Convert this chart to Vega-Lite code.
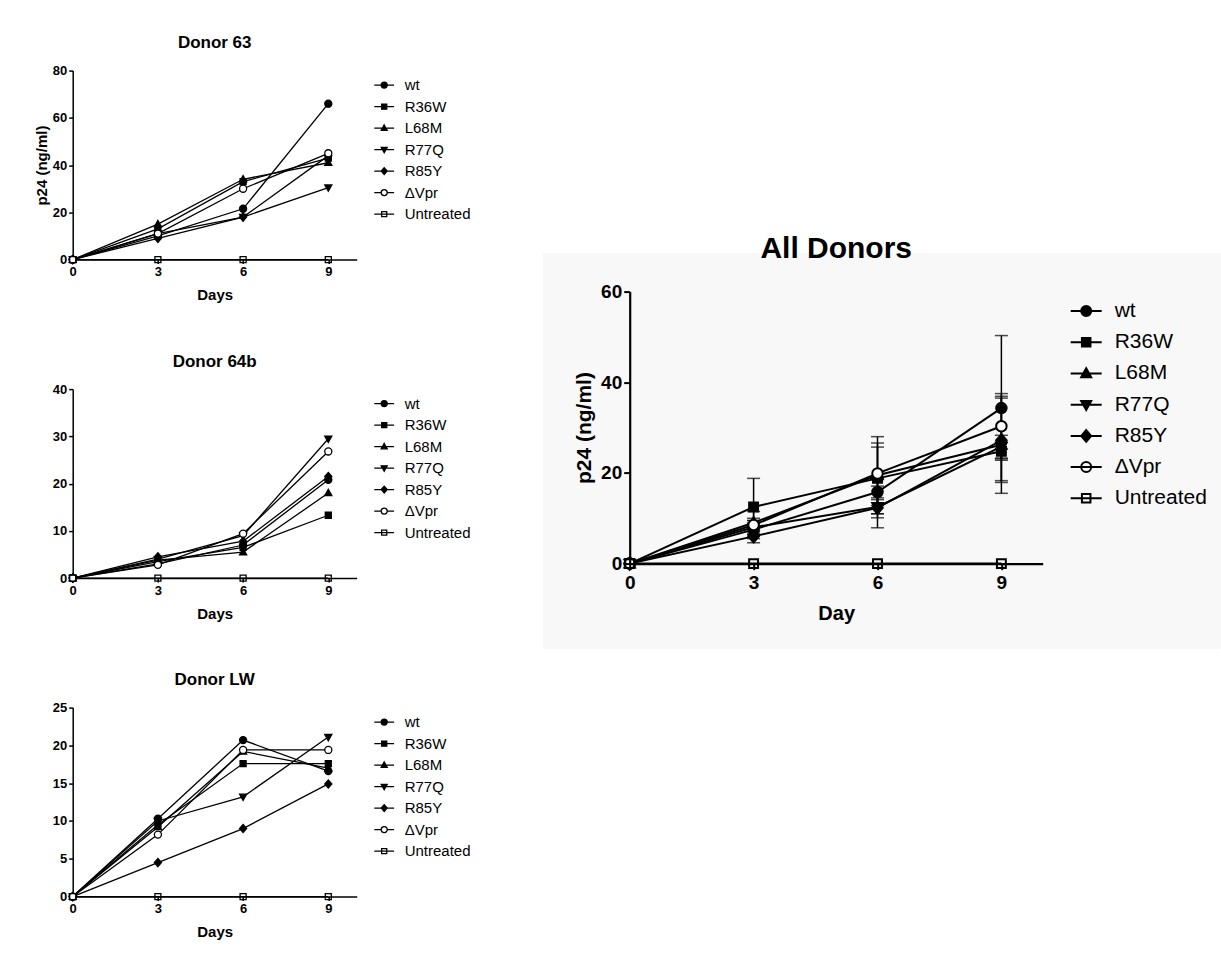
{
  "$schema": "https://vega.github.io/schema/vega-lite/v6.json",
  "padding": {"left": 33.7, "top": 33.6, "right": 0, "bottom": 0},
  "background": "white",
  "config": {
    "view": {"stroke": null},
    "font": "Liberation Sans",
    "axis": {"grid": false, "domainColor": "black", "tickColor": "black", "labelColor": "black", "titleColor": "black", "labelFont": "Liberation Sans", "titleFont": "Liberation Sans", "labelFlush": false},
    "legend": {"labelFont": "Liberation Sans", "labelColor": "black"},
    "title": {"font": "Liberation Sans", "color": "black", "fontWeight": "bold", "frame": "group", "anchor": "middle"}
  },
  "datasets": {
    "d": [
      {"donor": "Donor 63", "series": "wt", "day": 0, "p24": 0},
      {"donor": "Donor 63", "series": "wt", "day": 3, "p24": 10},
      {"donor": "Donor 63", "series": "wt", "day": 6, "p24": 21.5},
      {"donor": "Donor 63", "series": "wt", "day": 9, "p24": 66},
      {"donor": "Donor 63", "series": "R36W", "day": 0, "p24": 0},
      {"donor": "Donor 63", "series": "R36W", "day": 3, "p24": 13},
      {"donor": "Donor 63", "series": "R36W", "day": 6, "p24": 33},
      {"donor": "Donor 63", "series": "R36W", "day": 9, "p24": 43},
      {"donor": "Donor 63", "series": "L68M", "day": 0, "p24": 0},
      {"donor": "Donor 63", "series": "L68M", "day": 3, "p24": 15},
      {"donor": "Donor 63", "series": "L68M", "day": 6, "p24": 34},
      {"donor": "Donor 63", "series": "L68M", "day": 9, "p24": 41},
      {"donor": "Donor 63", "series": "R77Q", "day": 0, "p24": 0},
      {"donor": "Donor 63", "series": "R77Q", "day": 3, "p24": 11},
      {"donor": "Donor 63", "series": "R77Q", "day": 6, "p24": 18},
      {"donor": "Donor 63", "series": "R77Q", "day": 9, "p24": 30.5},
      {"donor": "Donor 63", "series": "R85Y", "day": 0, "p24": 0},
      {"donor": "Donor 63", "series": "R85Y", "day": 3, "p24": 9},
      {"donor": "Donor 63", "series": "R85Y", "day": 6, "p24": 18},
      {"donor": "Donor 63", "series": "R85Y", "day": 9, "p24": 44},
      {"donor": "Donor 63", "series": "ΔVpr", "day": 0, "p24": 0},
      {"donor": "Donor 63", "series": "ΔVpr", "day": 3, "p24": 11},
      {"donor": "Donor 63", "series": "ΔVpr", "day": 6, "p24": 30},
      {"donor": "Donor 63", "series": "ΔVpr", "day": 9, "p24": 45},
      {"donor": "Donor 63", "series": "Untreated", "day": 0, "p24": 0},
      {"donor": "Donor 63", "series": "Untreated", "day": 3, "p24": 0},
      {"donor": "Donor 63", "series": "Untreated", "day": 6, "p24": 0},
      {"donor": "Donor 63", "series": "Untreated", "day": 9, "p24": 0},

      {"donor": "Donor 64b", "series": "wt", "day": 0, "p24": 0},
      {"donor": "Donor 64b", "series": "wt", "day": 3, "p24": 3.0},
      {"donor": "Donor 64b", "series": "wt", "day": 6, "p24": 7.0},
      {"donor": "Donor 64b", "series": "wt", "day": 9, "p24": 20.8},
      {"donor": "Donor 64b", "series": "R36W", "day": 0, "p24": 0},
      {"donor": "Donor 64b", "series": "R36W", "day": 3, "p24": 3.5},
      {"donor": "Donor 64b", "series": "R36W", "day": 6, "p24": 6.5},
      {"donor": "Donor 64b", "series": "R36W", "day": 9, "p24": 13.3},
      {"donor": "Donor 64b", "series": "L68M", "day": 0, "p24": 0},
      {"donor": "Donor 64b", "series": "L68M", "day": 3, "p24": 3.8},
      {"donor": "Donor 64b", "series": "L68M", "day": 6, "p24": 5.5},
      {"donor": "Donor 64b", "series": "L68M", "day": 9, "p24": 18.0},
      {"donor": "Donor 64b", "series": "R77Q", "day": 0, "p24": 0},
      {"donor": "Donor 64b", "series": "R77Q", "day": 3, "p24": 4.0},
      {"donor": "Donor 64b", "series": "R77Q", "day": 6, "p24": 9.0},
      {"donor": "Donor 64b", "series": "R77Q", "day": 9, "p24": 29.5},
      {"donor": "Donor 64b", "series": "R85Y", "day": 0, "p24": 0},
      {"donor": "Donor 64b", "series": "R85Y", "day": 3, "p24": 4.5},
      {"donor": "Donor 64b", "series": "R85Y", "day": 6, "p24": 7.8},
      {"donor": "Donor 64b", "series": "R85Y", "day": 9, "p24": 21.5},
      {"donor": "Donor 64b", "series": "ΔVpr", "day": 0, "p24": 0},
      {"donor": "Donor 64b", "series": "ΔVpr", "day": 3, "p24": 2.8},
      {"donor": "Donor 64b", "series": "ΔVpr", "day": 6, "p24": 9.4},
      {"donor": "Donor 64b", "series": "ΔVpr", "day": 9, "p24": 26.8},
      {"donor": "Donor 64b", "series": "Untreated", "day": 0, "p24": 0},
      {"donor": "Donor 64b", "series": "Untreated", "day": 3, "p24": 0},
      {"donor": "Donor 64b", "series": "Untreated", "day": 6, "p24": 0},
      {"donor": "Donor 64b", "series": "Untreated", "day": 9, "p24": 0},

      {"donor": "Donor LW", "series": "wt", "day": 0, "p24": 0},
      {"donor": "Donor LW", "series": "wt", "day": 3, "p24": 10.3},
      {"donor": "Donor LW", "series": "wt", "day": 6, "p24": 20.7},
      {"donor": "Donor LW", "series": "wt", "day": 9, "p24": 16.6},
      {"donor": "Donor LW", "series": "R36W", "day": 0, "p24": 0},
      {"donor": "Donor LW", "series": "R36W", "day": 3, "p24": 9.5},
      {"donor": "Donor LW", "series": "R36W", "day": 6, "p24": 17.6},
      {"donor": "Donor LW", "series": "R36W", "day": 9, "p24": 17.6},
      {"donor": "Donor LW", "series": "L68M", "day": 0, "p24": 0},
      {"donor": "Donor LW", "series": "L68M", "day": 3, "p24": 9.2},
      {"donor": "Donor LW", "series": "L68M", "day": 6, "p24": 19.2},
      {"donor": "Donor LW", "series": "L68M", "day": 9, "p24": 17.0},
      {"donor": "Donor LW", "series": "R77Q", "day": 0, "p24": 0},
      {"donor": "Donor LW", "series": "R77Q", "day": 3, "p24": 10.0},
      {"donor": "Donor LW", "series": "R77Q", "day": 6, "p24": 13.2},
      {"donor": "Donor LW", "series": "R77Q", "day": 9, "p24": 21.1},
      {"donor": "Donor LW", "series": "R85Y", "day": 0, "p24": 0},
      {"donor": "Donor LW", "series": "R85Y", "day": 3, "p24": 4.5},
      {"donor": "Donor LW", "series": "R85Y", "day": 6, "p24": 9.0},
      {"donor": "Donor LW", "series": "R85Y", "day": 9, "p24": 14.9},
      {"donor": "Donor LW", "series": "ΔVpr", "day": 0, "p24": 0},
      {"donor": "Donor LW", "series": "ΔVpr", "day": 3, "p24": 8.2},
      {"donor": "Donor LW", "series": "ΔVpr", "day": 6, "p24": 19.4},
      {"donor": "Donor LW", "series": "ΔVpr", "day": 9, "p24": 19.4},
      {"donor": "Donor LW", "series": "Untreated", "day": 0, "p24": 0},
      {"donor": "Donor LW", "series": "Untreated", "day": 3, "p24": 0},
      {"donor": "Donor LW", "series": "Untreated", "day": 6, "p24": 0},
      {"donor": "Donor LW", "series": "Untreated", "day": 9, "p24": 0},

      {"donor": "All Donors", "series": "wt", "day": 0, "p24": 0},
      {"donor": "All Donors", "series": "wt", "day": 3, "p24": 7.5, "lo": 5.5, "hi": 9.5},
      {"donor": "All Donors", "series": "wt", "day": 6, "p24": 15.8, "lo": 12.8, "hi": 18.8},
      {"donor": "All Donors", "series": "wt", "day": 9, "p24": 34.3, "lo": 18.3, "hi": 50.3},
      {"donor": "All Donors", "series": "R36W", "day": 0, "p24": 0},
      {"donor": "All Donors", "series": "R36W", "day": 3, "p24": 12.5, "lo": 6.2, "hi": 18.8},
      {"donor": "All Donors", "series": "R36W", "day": 6, "p24": 18.8, "lo": 11.0, "hi": 26.6},
      {"donor": "All Donors", "series": "R36W", "day": 9, "p24": 24.8, "lo": 22.8, "hi": 26.8},
      {"donor": "All Donors", "series": "L68M", "day": 0, "p24": 0},
      {"donor": "All Donors", "series": "L68M", "day": 3, "p24": 9.0, "lo": 6.5, "hi": 11.5},
      {"donor": "All Donors", "series": "L68M", "day": 6, "p24": 19.5, "lo": 11.0, "hi": 28.0},
      {"donor": "All Donors", "series": "L68M", "day": 9, "p24": 26.2, "lo": 15.5, "hi": 36.9},
      {"donor": "All Donors", "series": "R77Q", "day": 0, "p24": 0},
      {"donor": "All Donors", "series": "R77Q", "day": 3, "p24": 8.0, "lo": 6.5, "hi": 9.5},
      {"donor": "All Donors", "series": "R77Q", "day": 6, "p24": 12.5, "lo": 7.9, "hi": 17.1},
      {"donor": "All Donors", "series": "R77Q", "day": 9, "p24": 25.8, "lo": 23.3, "hi": 28.3},
      {"donor": "All Donors", "series": "R85Y", "day": 0, "p24": 0},
      {"donor": "All Donors", "series": "R85Y", "day": 3, "p24": 6.0, "lo": 4.6, "hi": 7.4},
      {"donor": "All Donors", "series": "R85Y", "day": 6, "p24": 12.3, "lo": 10.1, "hi": 14.5},
      {"donor": "All Donors", "series": "R85Y", "day": 9, "p24": 27.2, "lo": 17.9, "hi": 36.5},
      {"donor": "All Donors", "series": "ΔVpr", "day": 0, "p24": 0},
      {"donor": "All Donors", "series": "ΔVpr", "day": 3, "p24": 8.5, "lo": 7.0, "hi": 10.0},
      {"donor": "All Donors", "series": "ΔVpr", "day": 6, "p24": 19.9, "lo": 14.1, "hi": 25.7},
      {"donor": "All Donors", "series": "ΔVpr", "day": 9, "p24": 30.3, "lo": 23.1, "hi": 37.5},
      {"donor": "All Donors", "series": "Untreated", "day": 0, "p24": 0},
      {"donor": "All Donors", "series": "Untreated", "day": 3, "p24": 0},
      {"donor": "All Donors", "series": "Untreated", "day": 6, "p24": 0},
      {"donor": "All Donors", "series": "Untreated", "day": 9, "p24": 0}
    ]
  },
  "spacing": 72,
  "resolve": {"scale": {"shape": "independent", "fill": "independent"}},
  "hconcat": [
    {
      "spacing": 49.5,
      "resolve": {"scale": {"shape": "independent", "fill": "independent"}},
      "vconcat": [
        {
          "width": 284, "height": 189,
          "title": {"text": "Donor 63", "fontSize": 17, "offset": 12.4},
          "data": {"name": "d"},
          "transform": [{"filter": "datum.donor === 'Donor 63'"}],
          "encoding": {
            "x": {"field": "day", "type": "quantitative", "scale": {"domain": [0, 10]}, "axis": {"title": "Days", "values": [0, 3, 6, 9], "labelFontSize": 13, "labelFontWeight": "bold", "titleFontSize": 15, "titleFontWeight": "bold", "tickSize": 4, "labelPadding": 2, "titlePadding": 9, "domainWidth": 1.5, "tickWidth": 1.5}},
            "y": {"field": "p24", "type": "quantitative", "scale": {"domain": [0, 80]}, "axis": {"title": "p24 (ng/ml)", "values": [0, 20, 40, 60, 80], "labelFontSize": 13, "labelFontWeight": "bold", "titleFontSize": 15, "titleFontWeight": "bold", "tickSize": 4, "labelPadding": 2, "titlePadding": 3, "domainWidth": 1.5, "tickWidth": 1.5}}
          },
          "resolve": {"scale": {"shape": "independent", "fill": "independent"}},
          "layer": [
            {"mark": {"type": "line", "color": "black", "strokeWidth": 1.3}, "encoding": {"detail": {"field": "series"}}},
            {"mark": {"type": "point", "filled": true, "stroke": "black", "strokeWidth": 1.3, "size": 50, "opacity": 1},
             "encoding": {
               "shape": {"field": "series", "type": "nominal", "legend": null, "scale": {"domain": ["wt", "R36W", "L68M", "R77Q", "R85Y", "ΔVpr", "Untreated"], "range": ["M-1,0A1,1,0,1,1,1,0A1,1,0,1,1,-1,0Z", "M-0.85,-0.85H0.85V0.85H-0.85Z", "M0,-1.05L1,0.75H-1Z", "M0,1.05L1,-0.75H-1Z", "M0,-1.15L1,0L0,1.15L-1,0Z", "M-1,0A1,1,0,1,1,1,0A1,1,0,1,1,-1,0Z", "M-0.85,-0.85H0.85V0.85H-0.85Z"]}},
               "fill": {"field": "series", "type": "nominal", "legend": null, "scale": {"domain": ["wt", "R36W", "L68M", "R77Q", "R85Y", "ΔVpr", "Untreated"], "range": ["black", "black", "black", "black", "black", "white", "transparent"]}}
             }},
            {"mark": {"type": "point", "filled": true, "stroke": "black", "strokeWidth": 1.3, "opacity": 0},
             "encoding": {
               "shape": {"field": "series", "type": "nominal", "legend": {"title": null, "orient": "none", "legendX": 304, "legendY": 7, "symbolSize": 36, "symbolStrokeWidth": 1.3, "symbolStrokeColor": "black", "symbolOpacity": 1, "labelFontSize": 15, "labelOffset": 13, "rowPadding": 5.5, "padding": 0, "encode": {"symbols": {"update": {"stroke": {"value": "black"}, "strokeWidth": {"value": 1.3}, "opacity": {"value": 1}}}}}, "scale": {"domain": ["wt", "R36W", "L68M", "R77Q", "R85Y", "ΔVpr", "Untreated"], "range": ["M-3.3,0H3.3M-1,0A1,1,0,1,1,1,0A1,1,0,1,1,-1,0Z", "M-3.3,0H3.3M-0.85,-0.85H0.85V0.85H-0.85Z", "M-3.3,0H3.3M0,-1.05L1,0.75H-1Z", "M-3.3,0H3.3M0,1.05L1,-0.75H-1Z", "M-3.3,0H3.3M0,-1.15L1,0L0,1.15L-1,0Z", "M-3.3,0H-1M1,0H3.3M-1,0A1,1,0,1,1,1,0A1,1,0,1,1,-1,0Z", "M-3.3,0H3.3M-0.85,-0.85H0.85V0.85H-0.85Z"]}},
               "fill": {"field": "series", "type": "nominal", "legend": {"title": null, "orient": "none", "legendX": 304, "legendY": 7, "symbolSize": 36, "symbolStrokeWidth": 1.3, "symbolStrokeColor": "black", "symbolOpacity": 1, "labelFontSize": 15, "labelOffset": 13, "rowPadding": 5.5, "padding": 0, "encode": {"symbols": {"update": {"stroke": {"value": "black"}, "strokeWidth": {"value": 1.3}, "opacity": {"value": 1}}}}}, "scale": {"domain": ["wt", "R36W", "L68M", "R77Q", "R85Y", "ΔVpr", "Untreated"], "range": ["black", "black", "black", "black", "black", "white", "transparent"]}}
             }}
          ]
        },
        {
          "width": 284, "height": 189,
          "title": {"text": "Donor 64b", "fontSize": 17, "offset": 12.4},
          "data": {"name": "d"},
          "transform": [{"filter": "datum.donor === 'Donor 64b'"}],
          "encoding": {
            "x": {"field": "day", "type": "quantitative", "scale": {"domain": [0, 10]}, "axis": {"title": "Days", "values": [0, 3, 6, 9], "labelFontSize": 13, "labelFontWeight": "bold", "titleFontSize": 15, "titleFontWeight": "bold", "tickSize": 4, "labelPadding": 2, "titlePadding": 9, "domainWidth": 1.5, "tickWidth": 1.5}},
            "y": {"field": "p24", "type": "quantitative", "scale": {"domain": [0, 40]}, "axis": {"title": " ", "values": [0, 10, 20, 30, 40], "labelFontSize": 13, "labelFontWeight": "bold", "titleFontSize": 15, "titleFontWeight": "bold", "tickSize": 4, "labelPadding": 2, "titlePadding": 3, "domainWidth": 1.5, "tickWidth": 1.5}}
          },
          "resolve": {"scale": {"shape": "independent", "fill": "independent"}},
          "layer": [
            {"mark": {"type": "line", "color": "black", "strokeWidth": 1.3}, "encoding": {"detail": {"field": "series"}}},
            {"mark": {"type": "point", "filled": true, "stroke": "black", "strokeWidth": 1.3, "size": 50, "opacity": 1},
             "encoding": {
               "shape": {"field": "series", "type": "nominal", "legend": null, "scale": {"domain": ["wt", "R36W", "L68M", "R77Q", "R85Y", "ΔVpr", "Untreated"], "range": ["M-1,0A1,1,0,1,1,1,0A1,1,0,1,1,-1,0Z", "M-0.85,-0.85H0.85V0.85H-0.85Z", "M0,-1.05L1,0.75H-1Z", "M0,1.05L1,-0.75H-1Z", "M0,-1.15L1,0L0,1.15L-1,0Z", "M-1,0A1,1,0,1,1,1,0A1,1,0,1,1,-1,0Z", "M-0.85,-0.85H0.85V0.85H-0.85Z"]}},
               "fill": {"field": "series", "type": "nominal", "legend": null, "scale": {"domain": ["wt", "R36W", "L68M", "R77Q", "R85Y", "ΔVpr", "Untreated"], "range": ["black", "black", "black", "black", "black", "white", "transparent"]}}
             }},
            {"mark": {"type": "point", "filled": true, "stroke": "black", "strokeWidth": 1.3, "opacity": 0},
             "encoding": {
               "shape": {"field": "series", "type": "nominal", "legend": {"title": null, "orient": "none", "legendX": 304, "legendY": 7, "symbolSize": 36, "symbolStrokeWidth": 1.3, "symbolStrokeColor": "black", "symbolOpacity": 1, "labelFontSize": 15, "labelOffset": 13, "rowPadding": 5.5, "padding": 0, "encode": {"symbols": {"update": {"stroke": {"value": "black"}, "strokeWidth": {"value": 1.3}, "opacity": {"value": 1}}}}}, "scale": {"domain": ["wt", "R36W", "L68M", "R77Q", "R85Y", "ΔVpr", "Untreated"], "range": ["M-3.3,0H3.3M-1,0A1,1,0,1,1,1,0A1,1,0,1,1,-1,0Z", "M-3.3,0H3.3M-0.85,-0.85H0.85V0.85H-0.85Z", "M-3.3,0H3.3M0,-1.05L1,0.75H-1Z", "M-3.3,0H3.3M0,1.05L1,-0.75H-1Z", "M-3.3,0H3.3M0,-1.15L1,0L0,1.15L-1,0Z", "M-3.3,0H-1M1,0H3.3M-1,0A1,1,0,1,1,1,0A1,1,0,1,1,-1,0Z", "M-3.3,0H3.3M-0.85,-0.85H0.85V0.85H-0.85Z"]}},
               "fill": {"field": "series", "type": "nominal", "legend": {"title": null, "orient": "none", "legendX": 304, "legendY": 7, "symbolSize": 36, "symbolStrokeWidth": 1.3, "symbolStrokeColor": "black", "symbolOpacity": 1, "labelFontSize": 15, "labelOffset": 13, "rowPadding": 5.5, "padding": 0, "encode": {"symbols": {"update": {"stroke": {"value": "black"}, "strokeWidth": {"value": 1.3}, "opacity": {"value": 1}}}}}, "scale": {"domain": ["wt", "R36W", "L68M", "R77Q", "R85Y", "ΔVpr", "Untreated"], "range": ["black", "black", "black", "black", "black", "white", "transparent"]}}
             }}
          ]
        },
        {
          "width": 284, "height": 189,
          "title": {"text": "Donor LW", "fontSize": 17, "offset": 12.4},
          "data": {"name": "d"},
          "transform": [{"filter": "datum.donor === 'Donor LW'"}],
          "encoding": {
            "x": {"field": "day", "type": "quantitative", "scale": {"domain": [0, 10]}, "axis": {"title": "Days", "values": [0, 3, 6, 9], "labelFontSize": 13, "labelFontWeight": "bold", "titleFontSize": 15, "titleFontWeight": "bold", "tickSize": 4, "labelPadding": 2, "titlePadding": 9, "domainWidth": 1.5, "tickWidth": 1.5}},
            "y": {"field": "p24", "type": "quantitative", "scale": {"domain": [0, 25]}, "axis": {"title": " ", "values": [0, 5, 10, 15, 20, 25], "labelFontSize": 13, "labelFontWeight": "bold", "titleFontSize": 15, "titleFontWeight": "bold", "tickSize": 4, "labelPadding": 2, "titlePadding": 3, "domainWidth": 1.5, "tickWidth": 1.5}}
          },
          "resolve": {"scale": {"shape": "independent", "fill": "independent"}},
          "layer": [
            {"mark": {"type": "line", "color": "black", "strokeWidth": 1.3}, "encoding": {"detail": {"field": "series"}}},
            {"mark": {"type": "point", "filled": true, "stroke": "black", "strokeWidth": 1.3, "size": 50, "opacity": 1},
             "encoding": {
               "shape": {"field": "series", "type": "nominal", "legend": null, "scale": {"domain": ["wt", "R36W", "L68M", "R77Q", "R85Y", "ΔVpr", "Untreated"], "range": ["M-1,0A1,1,0,1,1,1,0A1,1,0,1,1,-1,0Z", "M-0.85,-0.85H0.85V0.85H-0.85Z", "M0,-1.05L1,0.75H-1Z", "M0,1.05L1,-0.75H-1Z", "M0,-1.15L1,0L0,1.15L-1,0Z", "M-1,0A1,1,0,1,1,1,0A1,1,0,1,1,-1,0Z", "M-0.85,-0.85H0.85V0.85H-0.85Z"]}},
               "fill": {"field": "series", "type": "nominal", "legend": null, "scale": {"domain": ["wt", "R36W", "L68M", "R77Q", "R85Y", "ΔVpr", "Untreated"], "range": ["black", "black", "black", "black", "black", "white", "transparent"]}}
             }},
            {"mark": {"type": "point", "filled": true, "stroke": "black", "strokeWidth": 1.3, "opacity": 0},
             "encoding": {
               "shape": {"field": "series", "type": "nominal", "legend": {"title": null, "orient": "none", "legendX": 304, "legendY": 7, "symbolSize": 36, "symbolStrokeWidth": 1.3, "symbolStrokeColor": "black", "symbolOpacity": 1, "labelFontSize": 15, "labelOffset": 13, "rowPadding": 5.5, "padding": 0, "encode": {"symbols": {"update": {"stroke": {"value": "black"}, "strokeWidth": {"value": 1.3}, "opacity": {"value": 1}}}}}, "scale": {"domain": ["wt", "R36W", "L68M", "R77Q", "R85Y", "ΔVpr", "Untreated"], "range": ["M-3.3,0H3.3M-1,0A1,1,0,1,1,1,0A1,1,0,1,1,-1,0Z", "M-3.3,0H3.3M-0.85,-0.85H0.85V0.85H-0.85Z", "M-3.3,0H3.3M0,-1.05L1,0.75H-1Z", "M-3.3,0H3.3M0,1.05L1,-0.75H-1Z", "M-3.3,0H3.3M0,-1.15L1,0L0,1.15L-1,0Z", "M-3.3,0H-1M1,0H3.3M-1,0A1,1,0,1,1,1,0A1,1,0,1,1,-1,0Z", "M-3.3,0H3.3M-0.85,-0.85H0.85V0.85H-0.85Z"]}},
               "fill": {"field": "series", "type": "nominal", "legend": {"title": null, "orient": "none", "legendX": 304, "legendY": 7, "symbolSize": 36, "symbolStrokeWidth": 1.3, "symbolStrokeColor": "black", "symbolOpacity": 1, "labelFontSize": 15, "labelOffset": 13, "rowPadding": 5.5, "padding": 0, "encode": {"symbols": {"update": {"stroke": {"value": "black"}, "strokeWidth": {"value": 1.3}, "opacity": {"value": 1}}}}}, "scale": {"domain": ["wt", "R36W", "L68M", "R77Q", "R85Y", "ΔVpr", "Untreated"], "range": ["black", "black", "black", "black", "black", "white", "transparent"]}}
             }}
          ]
        }
      ]
    },
    {
      "spacing": 0,
      "resolve": {"scale": {"shape": "independent", "fill": "independent"}},
      "vconcat": [
        {"width": 10, "height": 162, "data": {"values": [{"k": 1}]}, "mark": {"type": "point", "opacity": 0}, "encoding": {}},
        {
          "width": 413, "height": 272,
          "title": {"text": "All Donors", "fontSize": 30, "offset": -10.5},
          "data": {"name": "d"},
          "transform": [{"filter": "datum.donor === 'All Donors'"}],
          "encoding": {
            "x": {"field": "day", "type": "quantitative", "scale": {"domain": [0, 10]}, "axis": {"title": "Day", "values": [0, 3, 6, 9], "labelFontSize": 19, "labelFontWeight": "bold", "titleFontSize": 20, "titleFontWeight": "bold", "tickSize": 6, "labelPadding": 4, "titlePadding": 11, "domainWidth": 2.2, "tickWidth": 2, "zindex": 1}},
            "y": {"field": "p24", "type": "quantitative", "scale": {"domain": [0, 60]}, "axis": {"title": "p24 (ng/ml)", "values": [0, 20, 40, 60], "labelFontSize": 19, "labelFontWeight": "bold", "titleFontSize": 21, "titleFontWeight": "bold", "tickSize": 6, "labelPadding": 2, "titlePadding": 6, "domainWidth": 2.2, "tickWidth": 2, "zindex": 1}}
          },
          "resolve": {"scale": {"shape": "independent", "fill": "independent"}},
          "layer": [
            {"mark": {"type": "rect", "fill": "#f8f8f8", "stroke": null},
             "encoding": {"x": {"datum": -2.1, "type": "quantitative"}, "x2": {"datum": 14.3}, "y": {"datum": -18.7, "type": "quantitative"}, "y2": {"datum": 68.5}}},
            {"mark": {"type": "line", "color": "black", "strokeWidth": 2}, "encoding": {"detail": {"field": "series"}}},
            {"transform": [{"filter": "datum.hi != null"}],
             "mark": {"type": "errorbar", "color": "black", "thickness": 1.5, "ticks": {"size": 13, "thickness": 1.5, "color": "black"}},
             "encoding": {"y": {"field": "lo", "type": "quantitative", "title": "p24 (ng/ml)"}, "y2": {"field": "hi"}}},
            {"mark": {"type": "point", "filled": true, "stroke": "black", "strokeWidth": 2, "size": 110, "opacity": 1},
             "encoding": {
               "shape": {"field": "series", "type": "nominal", "legend": null, "scale": {"domain": ["wt", "R36W", "L68M", "R77Q", "R85Y", "ΔVpr", "Untreated"], "range": ["M-1,0A1,1,0,1,1,1,0A1,1,0,1,1,-1,0Z", "M-0.85,-0.85H0.85V0.85H-0.85Z", "M0,-1.05L1,0.75H-1Z", "M0,1.05L1,-0.75H-1Z", "M0,-1.15L1,0L0,1.15L-1,0Z", "M-1,0A1,1,0,1,1,1,0A1,1,0,1,1,-1,0Z", "M-0.85,-0.85H0.85V0.85H-0.85Z"]}},
               "fill": {"field": "series", "type": "nominal", "legend": null, "scale": {"domain": ["wt", "R36W", "L68M", "R77Q", "R85Y", "ΔVpr", "Untreated"], "range": ["black", "black", "black", "black", "black", "white", "transparent"]}}
             }},
            {"mark": {"type": "point", "filled": true, "stroke": "black", "strokeWidth": 2, "opacity": 0},
             "encoding": {
               "shape": {"field": "series", "type": "nominal", "legend": {"title": null, "orient": "none", "legendX": 446, "legendY": 9, "symbolSize": 100, "symbolStrokeWidth": 2, "symbolStrokeColor": "black", "symbolOpacity": 1, "labelFontSize": 21, "labelOffset": 18, "rowPadding": 9.2, "padding": 0, "encode": {"symbols": {"update": {"stroke": {"value": "black"}, "strokeWidth": {"value": 2}, "opacity": {"value": 1}}}}}, "scale": {"domain": ["wt", "R36W", "L68M", "R77Q", "R85Y", "ΔVpr", "Untreated"], "range": ["M-3.1,0H3.1M-1,0A1,1,0,1,1,1,0A1,1,0,1,1,-1,0Z", "M-3.1,0H3.1M-0.85,-0.85H0.85V0.85H-0.85Z", "M-3.1,0H3.1M0,-1.05L1,0.75H-1Z", "M-3.1,0H3.1M0,1.05L1,-0.75H-1Z", "M-3.1,0H3.1M0,-1.15L1,0L0,1.15L-1,0Z", "M-3.1,0H3.1M-1,0A1,1,0,1,1,1,0A1,1,0,1,1,-1,0Z", "M-3.1,0H3.1M-0.85,-0.85H0.85V0.85H-0.85Z"]}},
               "fill": {"field": "series", "type": "nominal", "legend": {"title": null, "orient": "none", "legendX": 446, "legendY": 9, "symbolSize": 100, "symbolStrokeWidth": 2, "symbolStrokeColor": "black", "symbolOpacity": 1, "labelFontSize": 21, "labelOffset": 18, "rowPadding": 9.2, "padding": 0, "encode": {"symbols": {"update": {"stroke": {"value": "black"}, "strokeWidth": {"value": 2}, "opacity": {"value": 1}}}}}, "scale": {"domain": ["wt", "R36W", "L68M", "R77Q", "R85Y", "ΔVpr", "Untreated"], "range": ["black", "black", "black", "black", "black", "transparent", "transparent"]}}
             }}
          ]
        }
      ]
    }
  ]
}
